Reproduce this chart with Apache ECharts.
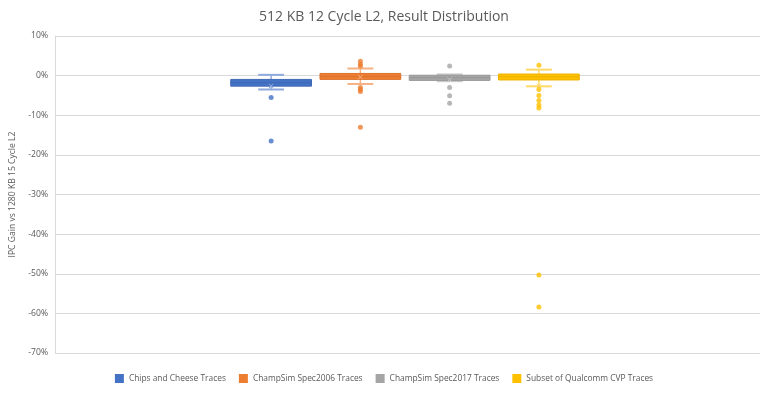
<!DOCTYPE html>
<html>
<head>
<meta charset="utf-8">
<script src="https://cdn.jsdelivr.net/npm/echarts@6/dist/echarts.min.js"></script>
<style>
  html, body { margin: 0; padding: 0; background: #fff; }
  #chart { width: 768px; height: 399px; }
</style>
</head>
<body>
<div id="chart"></div>
<script>
// ---- data (values in %) ----
var categories = ['Chips and Cheese Traces', 'ChampSim Spec2006 Traces', 'ChampSim Spec2017 Traces', 'Subset of Qualcomm CVP Traces'];
var whiskerLow  = [-3.5, -2.1, -1.4, -2.7];
var q1          = [-2.65, -0.95, -1.2, -1.1];
var median      = [-1.8, -0.2, -0.5, -0.3];
var q3          = [-0.96, 0.55, 0.1, 0.4];
var whiskerHigh = [0.2, 1.8, 0.3, 1.5];
var means       = [-2.6, -0.4, -1.0, -2.6];
var outliersChips     = [-5.5, -16.5];
var outliersSpec2006  = [3.6, 2.9, 2.4, -3.0, -3.5, -4.0, -13.0];
var outliersSpec2017  = [2.4, -3.0, -5.1, -7.0];
var outliersQualcomm  = [2.6, -3.5, -5.0, -6.3, -7.4, -8.2, -50.3, -58.4];

var colors = ['#4472C4', '#ED7D31', '#A5A5A5', '#FFC000'];
var borders = ['#3F69B5', '#DA722C', '#989898', '#EBB000'];
var whiskerColors = ['#8FAADC', '#F4B183', '#C9C9C9', '#FFD966'];
var outlierSets = [outliersChips, outliersSpec2006, outliersSpec2017, outliersQualcomm];

var chart = echarts.init(document.getElementById('chart'));

function pctLabel(v) {
  var r = Math.round(v);
  return (r < 0 ? '-' + Math.abs(r) : r) + '%';
}

var series = [];
categories.forEach(function (name, i) {
  series.push({
    name: name,
    type: 'custom',
    xAxisIndex: 1,
    yAxisIndex: 1,
    z: 3,
    itemStyle: { color: colors[i] },
    data: [[i, whiskerLow[i], q1[i], median[i], q3[i], whiskerHigh[i], means[i]]],
    renderItem: function (params, api) {
      var idx = api.value(0);
      var band = api.size([1, 0])[0];
      var bw = band * 0.905;
      var capW = bw * 0.32;
      var pLow = api.coord([idx, api.value(1)]);
      var pQ1 = api.coord([idx, api.value(2)]);
      var pMed = api.coord([idx, api.value(3)]);
      var pQ3 = api.coord([idx, api.value(4)]);
      var pHigh = api.coord([idx, api.value(5)]);
      var pMean = api.coord([idx, api.value(6)]);
      var cx = pQ1[0];
      var wc = whiskerColors[i];
      var m = 2.2;
      return {
        type: 'group',
        children: [
          { type: 'line', shape: { x1: cx, y1: pQ3[1], x2: cx, y2: pHigh[1] }, style: { stroke: wc, lineWidth: 1.5 } },
          { type: 'line', shape: { x1: cx, y1: pQ1[1], x2: cx, y2: pLow[1] }, style: { stroke: wc, lineWidth: 1.5 } },
          { type: 'line', shape: { x1: cx - capW / 2, y1: pHigh[1], x2: cx + capW / 2, y2: pHigh[1] }, style: { stroke: wc, lineWidth: 2 } },
          { type: 'line', shape: { x1: cx - capW / 2, y1: pLow[1], x2: cx + capW / 2, y2: pLow[1] }, style: { stroke: wc, lineWidth: 2 } },
          { type: 'rect', shape: { x: cx - bw / 2, y: pQ3[1], width: bw, height: pQ1[1] - pQ3[1] },
            style: { fill: colors[i], stroke: borders[i], lineWidth: 1 } },
          { type: 'line', shape: { x1: cx - bw / 2, y1: pMed[1], x2: cx + bw / 2, y2: pMed[1] }, style: { stroke: borders[i], lineWidth: 1 } },
          { type: 'line', shape: { x1: cx - m, y1: pMean[1] - m, x2: cx + m, y2: pMean[1] + m }, style: { stroke: wc, lineWidth: 1 } },
          { type: 'line', shape: { x1: cx - m, y1: pMean[1] + m, x2: cx + m, y2: pMean[1] - m }, style: { stroke: wc, lineWidth: 1 } }
        ]
      };
    }
  });
  series.push({
    name: name,
    type: 'scatter',
    xAxisIndex: 1,
    yAxisIndex: 1,
    z: 4,
    symbolSize: 5,
    itemStyle: { color: colors[i] },
    data: outlierSets[i].map(function (v) { return [i, v]; })
  });
});

chart.setOption({
  animation: false,
  backgroundColor: '#ffffff',
  color: colors,
  title: {
    text: '512 KB 12 Cycle L2, Result Distribution',
    left: 'center',
    top: 5,
    textStyle: { fontFamily: 'Open Sans', fontSize: 14, fontWeight: 'normal', color: '#595959' }
  },
  legend: {
    bottom: 11,
    left: 'center',
    icon: 'rect',
    itemWidth: 9,
    itemHeight: 9,
    itemGap: 13,
    textStyle: { fontFamily: 'Open Sans', fontSize: 8.4, color: '#595959' },
    data: categories.map(function (c, i) { return { name: c, itemStyle: { color: colors[i] } }; })
  },
  grid: [
    { left: 53, right: 8, top: 36, bottom: 46 },
    { left: 226.5, right: 184.5, top: 36, bottom: 46 }
  ],
  xAxis: [
    { type: 'value', gridIndex: 0, show: false, min: 0, max: 1 },
    { type: 'category', gridIndex: 1, show: false, data: categories }
  ],
  yAxis: [
    {
      type: 'value', gridIndex: 0, min: -70, max: 10, interval: 10,
      name: 'IPC Gain vs 1280 KB 15 Cycle L2',
      nameLocation: 'middle',
      nameGap: 38,
      nameTextStyle: { fontFamily: 'Open Sans', fontSize: 8.6, color: '#595959' },
      axisLine: { show: true, lineStyle: { color: '#D9D9D9' } },
      axisTick: { show: false },
      axisLabel: { formatter: pctLabel, fontFamily: 'Open Sans', fontSize: 8.6, color: '#595959', margin: 7 },
      splitLine: { show: true, lineStyle: { color: '#D9D9D9', width: 1 } }
    },
    { type: 'value', gridIndex: 1, min: -70, max: 10, interval: 10, show: false, splitLine: { show: false } }
  ],
  series: series
});
</script>
</body>
</html>
